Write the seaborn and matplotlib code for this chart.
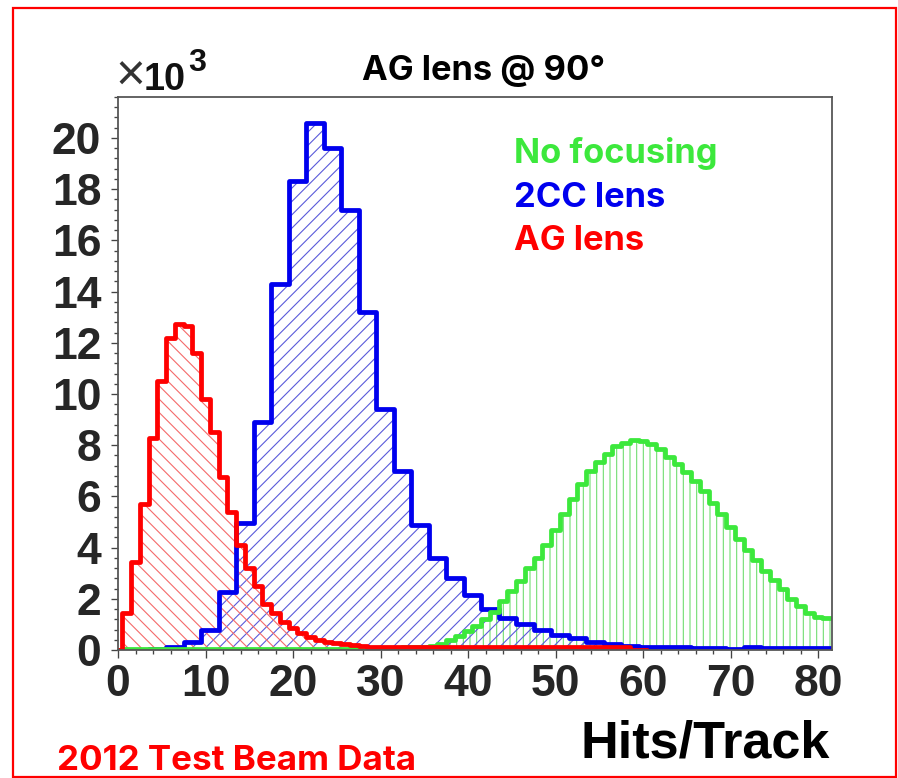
import numpy as np
import pandas as pd
import matplotlib
matplotlib.use("Agg")
import matplotlib.pyplot as plt
import seaborn as sns
from matplotlib.patches import Rectangle
from matplotlib.ticker import MultipleLocator

# ---------------- data (counts in thousands) ----------------
# AG lens: 1-hit bins centred on 0,1,2,...
red_counts = [0, 1.45, 3.45, 5.7, 8.3, 10.5, 12.2, 12.75, 12.65, 11.6,
              9.8, 8.5, 6.75, 5.4, 4.1, 3.2, 2.5, 1.8, 1.45, 1.1,
              0.85, 0.65, 0.5, 0.4, 0.33, 0.27, 0.22, 0.18, 0.15, 0.13,
              0.12, 0.12, 0.11, 0.11, 0.11, 0.1, 0.1, 0.1, 0.1, 0.1,
              0.1, 0.1, 0.1, 0.1, 0.1, 0.1, 0.1, 0.1, 0.1, 0.1,
              0.1, 0.1, 0.1, 0.1, 0.1, 0.1, 0.1, 0.1, 0.1, 0, 0]
# 2CC lens: 2-hit bins starting at -0.5
blue_counts = [0, 0, 0.02, 0.1, 0.3, 0.8, 2.25, 4.95, 8.9, 14.3,
               18.3, 20.6, 19.6, 17.2, 13.2, 9.4, 7.0, 4.9, 3.6, 2.8,
               2.15, 1.6, 1.25, 1.0, 0.8, 0.6, 0.45, 0.32, 0.24, 0.17,
               0.12, 0.1, 0.1, 0.09, 0.08, 0.05, 0.12, 0.08, 0.08, 0.08, 0.08]
# No focusing: 1-hit bins centred on 0,1,2,...
green_counts = [0, 0.04, 0.04, 0.04, 0.04, 0.04, 0.04, 0.04, 0.04, 0.04,
                0.04, 0.04, 0.04, 0.04, 0.04, 0.04, 0.04, 0.04, 0.04, 0.04,
                0.04, 0.04, 0.04, 0.04, 0.05, 0.05, 0.05, 0.06, 0.06, 0.07,
                0.07, 0.08, 0.09, 0.1, 0.11, 0.13, 0.15, 0.25, 0.4, 0.55,
                0.75, 0.95, 1.2, 1.5, 1.9, 2.3, 2.7, 3.2, 3.6, 4.1,
                4.7, 5.3, 5.9, 6.5, 7.0, 7.35, 7.65, 7.95, 8.1, 8.2,
                8.15, 8.05, 7.85, 7.55, 7.25, 6.95, 6.6, 6.2, 5.75, 5.3,
                4.8, 4.35, 3.9, 3.5, 3.1, 2.75, 2.4, 2.0, 1.7, 1.45,
                1.3, 1.25]

series_labels = ["No focusing", "2CC lens", "AG lens"]
x_ticks = [0, 10, 20, 30, 40, 50, 60, 70, 80]
x_tick_labels = ["0", "10", "20", "30", "40", "50", "60", "70", "80"]
y_ticks = [0, 2, 4, 6, 8, 10, 12, 14, 16, 18, 20]
y_tick_labels = ["0", "2", "4", "6", "8", "10", "12", "14", "16", "18", "20"]
title_text = "AG lens @ 90°"
x_label_text = "Hits/Track"
scale_parts = ["×", "10", "3"]
footer_text = "2012 Test Beam Data"

FINE_BIN = 1.0
COARSE_BIN = 2.0


def hist_frame(counts, width, start=-0.5):
    edges = start + width * np.arange(len(counts) + 1)
    df = pd.DataFrame({"hits": edges[:-1] + width / 2,
                       "n": np.asarray(counts, dtype=float)})
    return df, [float(e) for e in edges]


# ---------------- style ----------------
sns.set_style("ticks")
plt.rcParams["font.family"] = ["Liberation Sans", "DejaVu Sans"]
plt.rcParams["hatch.linewidth"] = 1.0

W, H, DPI = 898, 778, 80
fx = lambda x: x / W
fy = lambda y: 1 - y / H

fig = plt.figure(figsize=(W / DPI, H / DPI), dpi=DPI)
fig.patch.set_facecolor("white")
ax = fig.add_axes([fx(118), fy(650), (832 - 118) / W, (650 - 97) / H])

RED, BLUE, GREEN = "#ff0000", "#0000ee", "#3ce83c"
RED_H, BLUE_H, GREEN_H = "#f46a6a", "#5a5ada", "#72de72"

specs = [
    (green_counts, FINE_BIN, GREEN, GREEN_H, "||"),
    (blue_counts, COARSE_BIN, BLUE, BLUE_H, "//"),
    (red_counts, FINE_BIN, RED, RED_H, "\\\\"),
]

# hatched fills
for counts, width, col, hcol, hatch in specs:
    df, bins = hist_frame(counts, width)
    n_before = len(ax.collections)
    sns.histplot(data=df, x="hits", weights="n", bins=bins, stat="count",
                 element="step", fill=True, color=hcol, ax=ax)
    for coll in ax.collections[n_before:]:
        coll.set_facecolor("none")
        coll.set_edgecolor(hcol)
        coll.set_linewidth(0)
        coll.set_hatch(hatch)

# outlines
for counts, width, col, hcol, hatch in [specs[1], specs[0], specs[2]]:
    df, bins = hist_frame(counts, width)
    sns.histplot(data=df, x="hits", weights="n", bins=bins, stat="count",
                 element="step", fill=False, color=col, linewidth=4.3, ax=ax)

ax.set_xlim(0, 81.6)
ax.set_ylim(0, 21.6)
ax.set_xlabel("")
ax.set_ylabel("")
ax.set_xticks(x_ticks)
ax.set_xticklabels(x_tick_labels, fontsize=40, fontweight="bold")
ax.set_yticks(y_ticks)
ax.set_yticklabels(y_tick_labels, fontsize=40, fontweight="bold")
ax.xaxis.set_minor_locator(MultipleLocator(2))
ax.yaxis.set_minor_locator(MultipleLocator(0.4))
ax.tick_params(axis="both", which="both", direction="out", color="#444444", width=1.2)
ax.tick_params(axis="x", which="major", length=7, pad=6)
ax.tick_params(axis="x", which="minor", length=4)
ax.tick_params(axis="y", which="major", length=6, pad=9)
ax.tick_params(axis="y", which="minor", length=4)
for sp in ax.spines.values():
    sp.set_visible(True)
    sp.set_color("#555555")
    sp.set_linewidth(1.6)
ax.set_facecolor("white")

# ---------------- texts ----------------
# x10^3 multiplier
fig.text(fx(115), fy(91), scale_parts[0], fontsize=46, color="#333333",
         ha="left", va="baseline")
fig.text(fx(144), fy(90), scale_parts[1], fontsize=34, fontweight="bold",
         color="#111111", ha="left", va="baseline")
fig.text(fx(188), fy(71), scale_parts[2], fontsize=29, fontweight="bold",
         color="#111111", ha="left", va="baseline")

FF = ["Inter", "Lato", "DejaVu Sans"]
fig.text(fx(484), fy(80), title_text, fontsize=31, fontweight="bold",
         family=FF, color="black", ha="center", va="baseline")
leg_colors = [GREEN, BLUE, RED]
leg_base = [163, 207, 250]
for lab, c, yb in zip(series_labels, leg_colors, leg_base):
    fig.text(fx(514), fy(yb), lab, fontsize=31, fontweight="bold",
             family=FF, color=c, ha="left", va="baseline")
fig.text(fx(830), fy(758), x_label_text, fontsize=47, fontweight="bold",
         color="black", ha="right", va="baseline")
fig.text(fx(57), fy(770), footer_text, fontsize=31.5, fontweight="bold",
         family=FF, color=RED, ha="left", va="baseline")

fig.add_artist(Rectangle((fx(13), fy(777)), (896 - 13) / W, (777 - 8) / H,
                         transform=fig.transFigure, fill=False,
                         edgecolor="red", linewidth=2))

fig.savefig("out.png", dpi=DPI)
